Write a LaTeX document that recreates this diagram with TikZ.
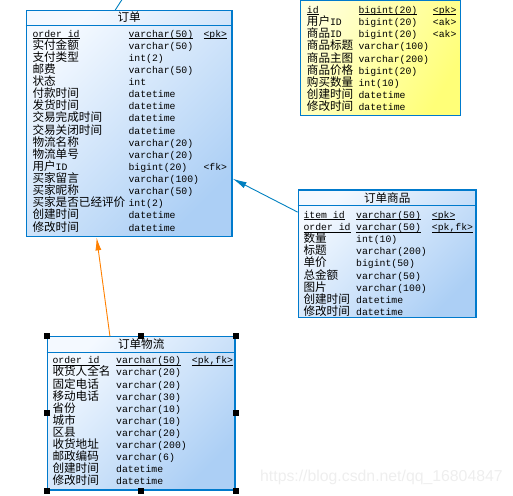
\documentclass[tikz,border=0pt]{standalone}
\usepackage{fontspec}
\setmainfont{Liberation Mono}
\newfontfamily\cjkfont{Noto Sans CJK SC}
\newfontfamily\wmfont{Liberation Sans}
\usetikzlibrary{arrows.meta}
\definecolor{tblborder}{RGB}{0,122,204}
\definecolor{blueA}{RGB}{244,249,255}
\definecolor{blueB}{RGB}{172,207,245}
\definecolor{goldA}{RGB}{255,255,222}
\definecolor{goldB}{RGB}{255,255,120}
\definecolor{linkblue}{RGB}{0,128,192}
\definecolor{linkorange}{RGB}{255,128,0}
\definecolor{wmgray}{RGB}{238,238,238}
\newcommand\lat[1]{{\normalfont\fontsize{9.8}{12}\selectfont #1}}
\newcommand\keyline[1]{\setbox0\hbox{#1}\rlap{\rule[-2pt]{\wd0}{0.8pt}}\box0}
\begin{document}
\begin{tikzpicture}[x=1pt,y=-1pt,
    tablebox/.style={draw=tblborder,line width=1.3pt,inner sep=0pt,
        top color=blueA,bottom color=blueB,shading angle=45},
    goldbox/.style={tablebox,top color=goldA,bottom color=goldB,shading angle=60},
    sepline/.style={draw=tblborder,line width=1.1pt},
    titlecell/.style={inner sep=0pt,font=\cjkfont\fontsize{11.6}{12}\selectfont},
    namecell/.style={anchor=base west,inner sep=0pt,font=\cjkfont\fontsize{11.6}{12}\selectfont},
    typecell/.style={anchor=base west,inner sep=0pt,font=\normalfont\fontsize{9.8}{12}\selectfont},
    bluelink/.style={draw=linkblue,line width=0.9pt},
    orangelink/.style={draw=linkorange,line width=0.9pt},
    handle/.style={fill=black}]
\useasboundingbox (0,0) rectangle (513,495);%

% Drawing table boxes
\node[tablebox,minimum width=205.7pt,minimum height=226pt] (order) at (129.2,123.7) {};%
\node[goldbox,minimum width=159.8pt,minimum height=145.7pt] (goods) at (380.6,42.85) {};%
\node[tablebox,minimum width=177.7pt,minimum height=127.7pt] (orderitem) at (387.15,253.85) {};%
\node[tablebox,minimum width=187.7pt,minimum height=153.3pt] (shipping) at (141.15,413.35) {};%

% Drawing title separators
\draw[sepline] ([yshift=-15.3pt]order.north west) -- ([yshift=-15.3pt]order.north east);%
\draw[sepline] ([yshift=-31pt]goods.north west) -- ([yshift=-31pt]goods.north east);%
\draw[sepline] ([yshift=-15.7pt]orderitem.north west) -- ([yshift=-15.7pt]orderitem.north east);%
\draw[sepline] ([yshift=-16.3pt]shipping.north west) -- ([yshift=-16.3pt]shipping.north east);%

% Marking titles
\node[titlecell] (orderT) at (129.2,17) {订单};%
\node[titlecell] (orderitemT) at (387.2,197.7) {订单商品};%
\node[titlecell] (shippingT) at (141.2,344.3) {订单物流};%

% Marking rows of table 订单
\node[namecell] (on1) at (32.3,37.1) {\keyline{\lat{order id}}};%
\node[typecell] (ot1) at (128.3,37.1) {\keyline{varchar(50)}};%
\node[typecell] (ok1) at (203.3,37.1) {\keyline{<pk>}};%
\node[namecell] (on2) at (32.3,49.2) {实付金额};%
\node[typecell] (ot2) at (128.3,49.2) {varchar(50)};%
\node[namecell] (on3) at (32.3,61.3) {支付类型};%
\node[typecell] (ot3) at (128.3,61.3) {int(2)};%
\node[namecell] (on4) at (32.3,73.5) {邮费};%
\node[typecell] (ot4) at (128.3,73.5) {varchar(50)};%
\node[namecell] (on5) at (32.3,85.6) {状态};%
\node[typecell] (ot5) at (128.3,85.6) {int};%
\node[namecell] (on6) at (32.3,97.7) {付款时间};%
\node[typecell] (ot6) at (128.3,97.7) {datetime};%
\node[namecell] (on7) at (32.3,109.8) {发货时间};%
\node[typecell] (ot7) at (128.3,109.8) {datetime};%
\node[namecell] (on8) at (32.3,121.9) {交易完成时间};%
\node[typecell] (ot8) at (128.3,121.9) {datetime};%
\node[namecell] (on9) at (32.3,134.1) {交易关闭时间};%
\node[typecell] (ot9) at (128.3,134.1) {datetime};%
\node[namecell] (on10) at (32.3,146.2) {物流名称};%
\node[typecell] (ot10) at (128.3,146.2) {varchar(20)};%
\node[namecell] (on11) at (32.3,158.3) {物流单号};%
\node[typecell] (ot11) at (128.3,158.3) {varchar(20)};%
\node[namecell] (on12) at (32.3,170.4) {用户\lat{ID}};%
\node[typecell] (ot12) at (128.3,170.4) {bigint(20)};%
\node[typecell] (ok12) at (203.3,170.4) {<fk>};%
\node[namecell] (on13) at (32.3,182.5) {买家留言};%
\node[typecell] (ot13) at (128.3,182.5) {varchar(100)};%
\node[namecell] (on14) at (32.3,194.7) {买家昵称};%
\node[typecell] (ot14) at (128.3,194.7) {varchar(50)};%
\node[namecell] (on15) at (32.3,206.8) {买家是否已经评价};%
\node[typecell] (ot15) at (128.3,206.8) {int(2)};%
\node[namecell] (on16) at (32.3,218.9) {创建时间};%
\node[typecell] (ot16) at (128.3,218.9) {datetime};%
\node[namecell] (on17) at (32.3,231.0) {修改时间};%
\node[typecell] (ot17) at (128.3,231.0) {datetime};%

% Marking rows of the goods table
\node[namecell] (gn1) at (306.7,13.3) {\keyline{\lat{id}}};%
\node[typecell] (gt1) at (358.3,13.3) {\keyline{bigint(20)}};%
\node[typecell] (gk1) at (432.7,13.3) {\keyline{<pk>}};%
\node[namecell] (gn2) at (306.7,25.5) {用户\lat{ID}};%
\node[typecell] (gt2) at (358.3,25.5) {bigint(20)};%
\node[typecell] (gk2) at (432.7,25.5) {<ak>};%
\node[namecell] (gn3) at (306.7,37.7) {商品\lat{ID}};%
\node[typecell] (gt3) at (358.3,37.7) {bigint(20)};%
\node[typecell] (gk3) at (432.7,37.7) {<ak>};%
\node[namecell] (gn4) at (306.7,49.9) {商品标题};%
\node[typecell] (gt4) at (358.3,49.9) {varchar(100)};%
\node[namecell] (gn5) at (306.7,62.1) {商品主图};%
\node[typecell] (gt5) at (358.3,62.1) {varchar(200)};%
\node[namecell] (gn6) at (306.7,74.3) {商品价格};%
\node[typecell] (gt6) at (358.3,74.3) {bigint(20)};%
\node[namecell] (gn7) at (306.7,86.5) {购买数量};%
\node[typecell] (gt7) at (358.3,86.5) {int(10)};%
\node[namecell] (gn8) at (306.7,98.7) {创建时间};%
\node[typecell] (gt8) at (358.3,98.7) {datetime};%
\node[namecell] (gn9) at (306.7,110.9) {修改时间};%
\node[typecell] (gt9) at (358.3,110.9) {datetime};%

% Marking rows of table 订单商品
\node[namecell] (in1) at (303.3,218.1) {\keyline{\lat{item id}}};%
\node[typecell] (it1) at (356,218.1) {\keyline{varchar(50)}};%
\node[typecell] (ik1) at (431.7,218.1) {\keyline{<pk>}};%
\node[namecell] (in2) at (303.3,230.3) {\keyline{\lat{order id}}};%
\node[typecell] (it2) at (356,230.3) {\keyline{varchar(50)}};%
\node[typecell] (ik2) at (431.7,230.3) {\keyline{<pk,fk>}};%
\node[namecell] (in3) at (303.3,242.4) {数量};%
\node[typecell] (it3) at (356,242.4) {int(10)};%
\node[namecell] (in4) at (303.3,254.6) {标题};%
\node[typecell] (it4) at (356,254.6) {varchar(200)};%
\node[namecell] (in5) at (303.3,266.8) {单价};%
\node[typecell] (it5) at (356,266.8) {bigint(50)};%
\node[namecell] (in6) at (303.3,279.0) {总金额};%
\node[typecell] (it6) at (356,279.0) {varchar(50)};%
\node[namecell] (in7) at (303.3,291.1) {图片};%
\node[typecell] (it7) at (356,291.1) {varchar(100)};%
\node[namecell] (in8) at (303.3,303.3) {创建时间};%
\node[typecell] (it8) at (356,303.3) {datetime};%
\node[namecell] (in9) at (303.3,315.5) {修改时间};%
\node[typecell] (it9) at (356,315.5) {datetime};%

% Marking rows of table 订单物流
\node[namecell] (sn1) at (52.3,363.8) {\keyline{\lat{order id}}};%
\node[typecell] (st1) at (116,363.8) {\keyline{varchar(50)}};%
\node[typecell] (sk1) at (191.7,363.8) {\keyline{<pk,fk>}};%
\node[namecell] (sn2) at (52.3,375.9) {收货人全名};%
\node[typecell] (st2) at (116,375.9) {varchar(20)};%
\node[namecell] (sn3) at (52.3,388.0) {固定电话};%
\node[typecell] (st3) at (116,388.0) {varchar(20)};%
\node[namecell] (sn4) at (52.3,400.1) {移动电话};%
\node[typecell] (st4) at (116,400.1) {varchar(30)};%
\node[namecell] (sn5) at (52.3,412.2) {省份};%
\node[typecell] (st5) at (116,412.2) {varchar(10)};%
\node[namecell] (sn6) at (52.3,424.3) {城市};%
\node[typecell] (st6) at (116,424.3) {varchar(10)};%
\node[namecell] (sn7) at (52.3,436.4) {区县};%
\node[typecell] (st7) at (116,436.4) {varchar(20)};%
\node[namecell] (sn8) at (52.3,448.5) {收货地址};%
\node[typecell] (st8) at (116,448.5) {varchar(200)};%
\node[namecell] (sn9) at (52.3,460.6) {邮政编码};%
\node[typecell] (st9) at (116,460.6) {varchar(6)};%
\node[namecell] (sn10) at (52.3,472.7) {创建时间};%
\node[typecell] (st10) at (116,472.7) {datetime};%
\node[namecell] (sn11) at (52.3,484.8) {修改时间};%
\node[typecell] (st11) at (116,484.8) {datetime};%

% Drawing references
\coordinate (offtop) at (123,-2);%
\draw[bluelink] (order.97) -- (offtop);%
\draw[bluelink,-{Latex[length=14pt,width=6.5pt]}] (orderitem.155) -- (order.-28);%
\draw[orangelink,-{Latex[length=13pt,width=6pt]}] (shipping.112.8) -- (order.-106.8);%

% Marking selection handles of 订单物流
\fill[handle] ([shift={(-3,-3)}]shipping.north west) rectangle ++(6,6);%
\fill[handle] ([shift={(-3,-3)}]shipping.north) rectangle ++(6,6);%
\fill[handle] ([shift={(-3,-3)}]shipping.north east) rectangle ++(6,6);%
\fill[handle] ([shift={(-3,-3)}]shipping.west) rectangle ++(6,6);%
\fill[handle] ([shift={(-3,-3)}]shipping.east) rectangle ++(6,6);%
\fill[handle] ([shift={(-3,-3)}]shipping.south west) rectangle ++(6,6);%
\fill[handle] ([shift={(-3,-3)}]shipping.south) rectangle ++(6,6);%
\fill[handle] ([shift={(-3,-3)}]shipping.south east) rectangle ++(6,6);%

% Marking watermark
\node[anchor=base west,inner sep=0pt,text=wmgray,font=\wmfont\fontsize{15.8}{16}\selectfont] (mark) at (260,481.7) {https://blog.csdn.net/qq\_16804847};%
\end{tikzpicture}
\end{document}
